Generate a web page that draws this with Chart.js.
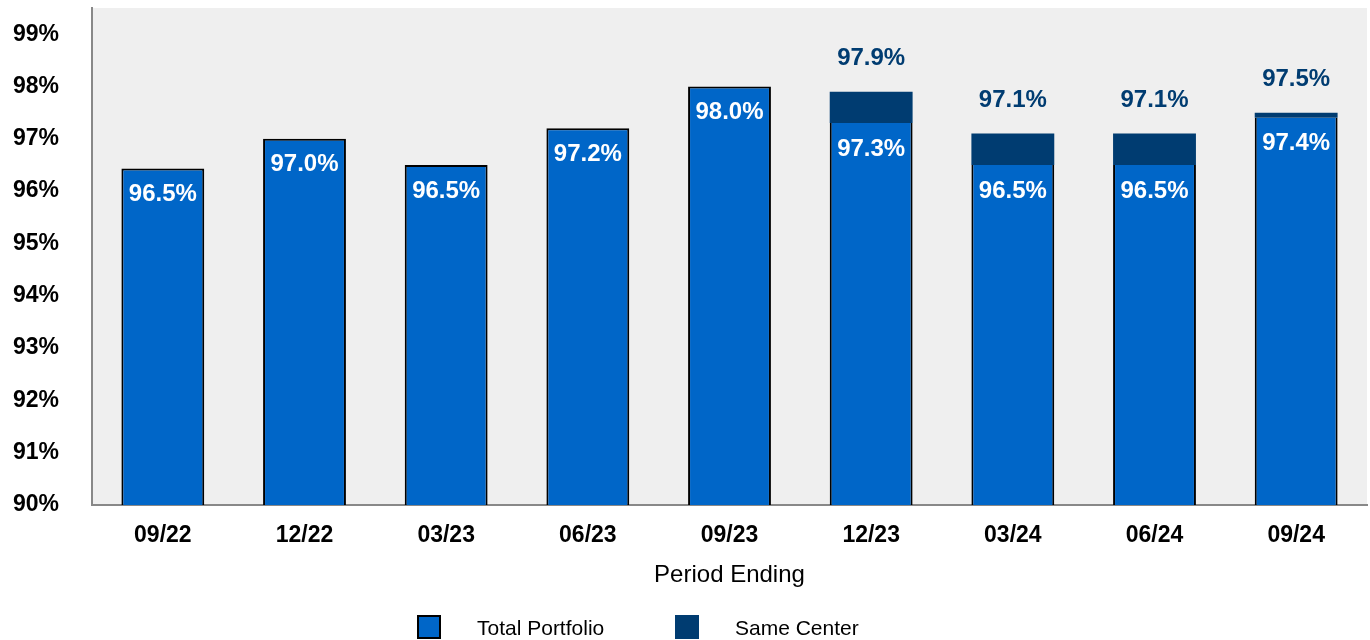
<!DOCTYPE html>
<html>
<head>
<meta charset="utf-8">
<script src="https://cdn.jsdelivr.net/npm/chart.js@4"></script>
<style>
  html, body { margin: 0; padding: 0; background: #fff; }
  #wrap { width: 1370px; height: 640px; position: relative; }
</style>
</head>
<body>
<div id="wrap"><canvas id="occ-chart"></canvas></div>
<script>
const periods = ["09/22", "12/22", "03/23", "06/23", "09/23", "12/23", "03/24", "06/24", "09/24"];
const totalPortfolio = [96.43, 97.0, 96.5, 97.2, 98.0, 97.3, 96.5, 96.5, 97.4];
const totalLabels = ["96.5%", "97.0%", "96.5%", "97.2%", "98.0%", "97.3%", "96.5%", "96.5%", "97.4%"];
const sameCenter = [null, null, null, null, null, 97.9, 97.1, 97.1, 97.5];
const sameLabels = [null, null, null, null, null, "97.9%", "97.1%", "97.1%", "97.5%"];
const yTicks = [90, 91, 92, 93, 94, 95, 96, 97, 98, 99];

const BLUE = "#0066C8";
const NAVY = "#003C71";
const FONT = "'Liberation Sans', Arial, sans-serif";

// same center only drawn as the piece above the total bar
const sameRange = sameCenter.map((v, i) => v == null ? null : [totalPortfolio[i], v]);

const plotBg = {
  id: "plotBg",
  beforeDraw(chart) {
    const { ctx, chartArea: a } = chart;
    ctx.save();
    ctx.fillStyle = "#EFEFEF";
    ctx.fillRect(a.left, a.top, a.right - a.left, a.bottom - a.top);
    ctx.restore();
  }
};

const barLabels = {
  id: "barLabels",
  afterDatasetsDraw(chart) {
    const ctx = chart.ctx;
    ctx.save();
    ctx.textAlign = "center";
    ctx.textBaseline = "middle";
    ctx.font = "bold 24px " + FONT;
    chart.getDatasetMeta(0).data.forEach((bar, i) => {
      ctx.fillStyle = "#FFFFFF";
      ctx.fillText(totalLabels[i], bar.x, bar.y + 26);
    });
    chart.getDatasetMeta(1).data.forEach((bar, i) => {
      if (!sameLabels[i]) return;
      ctx.fillStyle = NAVY;
      ctx.fillText(sameLabels[i], bar.x, bar.y - 33);
    });
    ctx.restore();
  }
};

const bottomText = {
  id: "bottomText",
  afterDraw(chart) {
    const { ctx, chartArea: a } = chart;
    ctx.save();
    ctx.fillStyle = "#000";
    ctx.textAlign = "center";
    ctx.textBaseline = "alphabetic";
    ctx.font = "24px " + FONT;
    ctx.fillText("Period Ending", (a.left + a.right) / 2, 582);

    // legend
    ctx.font = "21px " + FONT;
    ctx.textAlign = "left";
    ctx.fillStyle = BLUE;
    ctx.fillRect(418, 616, 22, 22);
    ctx.strokeStyle = "#000";
    ctx.lineWidth = 2;
    ctx.strokeRect(418, 616, 22, 22);
    ctx.fillStyle = "#000";
    ctx.fillText("Total Portfolio", 477, 635);
    ctx.fillStyle = NAVY;
    ctx.fillRect(675, 615, 24, 24);
    ctx.fillStyle = "#000";
    ctx.fillText("Same Center", 735, 635);
    ctx.restore();
  }
};

new Chart(document.getElementById("occ-chart"), {
  type: "bar",
  data: {
    labels: periods,
    datasets: [
      {
        label: "Total Portfolio",
        data: totalPortfolio,
        backgroundColor: BLUE,
        borderColor: "#000",
        borderWidth: ctx => sameCenter[ctx.dataIndex] != null
          ? { top: 0, left: 2, right: 2, bottom: 0 }
          : { top: 2, left: 2, right: 2, bottom: 0 },
        borderSkipped: false,
        grouped: false,
        barPercentage: 0.585,
        categoryPercentage: 1
      },
      {
        label: "Same Center",
        data: sameRange,
        backgroundColor: NAVY,
        borderWidth: 0,
        grouped: false,
        barPercentage: 0.585,
        categoryPercentage: 1
      }
    ]
  },
  options: {
    responsive: true,
    maintainAspectRatio: false,
    animation: false,
    layout: { padding: { top: 8, right: 3, left: 13, bottom: 0 } },
    plugins: {
      legend: { display: false },
      tooltip: { enabled: false }
    },
    scales: {
      x: {
        grid: { display: false, drawTicks: false },
        border: { display: true, color: "#888", width: 2 },
        ticks: {
          color: "#000",
          font: { family: FONT, size: 23, weight: "bold" },
          padding: 17
        },
        afterFit: s => { s.height = 135; }
      },
      y: {
        min: 90,
        max: 99.5,
        grid: { display: false, drawTicks: false },
        border: { display: true, color: "#888", width: 2 },
        afterBuildTicks: s => { s.ticks = yTicks.map(v => ({ value: v })); },
        ticks: {
          color: "#000",
          font: { family: FONT, size: 23, weight: "bold", lineHeight: 0.6 },
          padding: 0,
          crossAlign: "far",
          callback: v => v + "%"
        },
        afterFit: s => { s.width = 79; }
      }
    }
  },
  plugins: [plotBg, barLabels, bottomText]
});
</script>
</body>
</html>
